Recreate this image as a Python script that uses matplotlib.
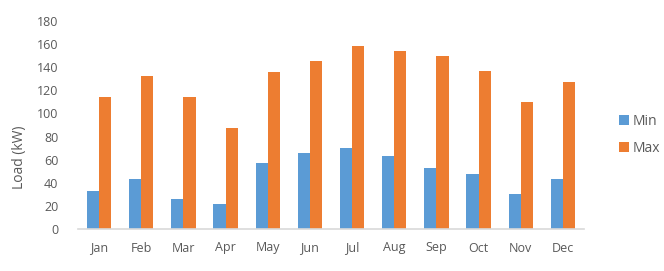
import matplotlib.pyplot as plt
import numpy as np

months = ["Jan", "Feb", "Mar", "Apr", "May", "Jun", "Jul", "Aug", "Sep", "Oct", "Nov", "Dec"]
load_min = [32.5, 43.5, 26, 21.6, 56.7, 65.7, 70.3, 63.4, 52.4, 48, 30.5, 43.5]
load_max = [114, 132, 114, 87.5, 136, 145, 158.4, 154, 149.5, 136.5, 110, 127.6]

blue = "#5B9BD5"
orange = "#ED7D31"
txt = "#595959"

plt.rcParams['font.family'] = ['Open Sans', 'DejaVu Sans']

fig = plt.figure(figsize=(6.64, 2.71), dpi=100)
ax = fig.add_axes([78/664, 1 - 229/271, (584 - 78)/664, (229 - 21)/271])

x = np.arange(len(months))
w = 0.29
ax.bar(x - w/2, load_min, w, color=blue, label="Min")
ax.bar(x + w/2, load_max, w, color=orange, label="Max")

ax.set_xlim(-0.5, 11.5)
ax.set_ylim(0, 180)
ax.set_yticks(range(0, 181, 20))
ax.set_xticks(x)
ax.set_xticklabels(months)
ax.tick_params(axis='both', length=0, colors=txt, labelsize=9)
ax.tick_params(axis='y', pad=14)
ax.tick_params(axis='x', pad=9)
for s in ["top", "right", "left"]:
    ax.spines[s].set_visible(False)
ax.spines["bottom"].set_color("#D9D9D9")
ax.spines["bottom"].set_linewidth(1.2)

fig.text(20/664, 1 - 157/271, "Load (kW)", rotation=90, va="center", ha="center",
         color=txt, fontsize=10)

leg = fig.legend(loc="center left", bbox_to_anchor=(606/664, 1 - 135/271), frameon=False,
                 fontsize=10, handlelength=0.75, handleheight=0.75, handletextpad=0.25,
                 labelspacing=0.9)
for t in leg.get_texts():
    t.set_color(txt)

fig.savefig("out.png", dpi=100)
